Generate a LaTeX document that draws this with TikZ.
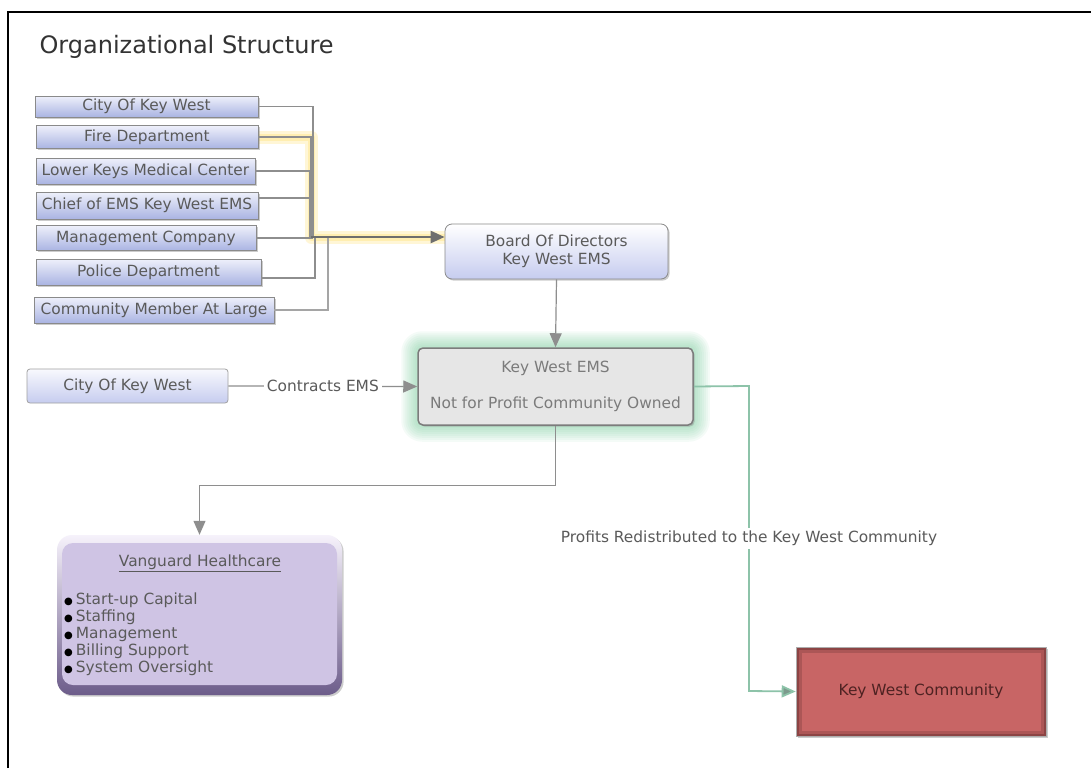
\documentclass[tikz,border=0pt]{standalone}
\usepackage{fontspec}
\setmainfont{DejaVu Sans}
\usetikzlibrary{shadows,arrows.meta,backgrounds,calc}
\definecolor{txt}{HTML}{5A5A5A}
\definecolor{bordergray}{HTML}{8A8A8A}
\definecolor{bluetop}{HTML}{EEF0FB}
\definecolor{bluebot}{HTML}{AAB4E2}
\definecolor{boardbot}{HTML}{C6CCEF}
\definecolor{linegray}{HTML}{8E8E8E}
\definecolor{darkline}{HTML}{6E6E6E}
\definecolor{glowyellow}{HTML}{FFE27A}
\definecolor{glowgreen}{HTML}{6FCB95}
\definecolor{emsfill}{HTML}{E6E6E6}
\definecolor{vtop}{HTML}{F6F2FB}
\definecolor{vbot}{HTML}{6C5C8A}
\definecolor{vfill}{HTML}{CFC4E4}
\definecolor{kwcfill}{HTML}{C86565}
\definecolor{kwcdark}{HTML}{6E3434}
\definecolor{kwctxt}{HTML}{4E2222}
\definecolor{greenline}{HTML}{8DC3A9}
\definecolor{greentip}{HTML}{7C9A8C}
\newcommand{\fsz}{\fontsize{15.4}{17}\selectfont}
\newcommand{\bul}{\textcolor{black}{\fontsize{10}{10}\selectfont ●}\hspace{3pt}}
\tikzset{
  shad/.style={drop shadow={shadow xshift=1.6pt,shadow yshift=-1.6pt,opacity=.4}},
  lbox/.style={draw=bordergray, line width=0.8pt, top color=bluetop, bottom color=bluebot,
    inner sep=0pt, text=txt, font=\fsz, shad},
  conn/.style={draw=linegray, line width=1.2pt},
  tip/.style={-{Triangle[length=14pt,width=12pt]}},
}
\begin{document}
\begin{tikzpicture}[x=1pt,y=-1pt]
\useasboundingbox (0,0) rectangle (1091,768);
\draw[line width=1.3pt] (8,768) -- (8,12) -- (1091,12);

\node[anchor=west, font=\fontsize{24}{28}\selectfont, text=black!80] (title) at (36,47) {Organizational Structure};

% left boxes
\node[lbox, minimum width=223pt, minimum height=21pt] (c1) at (146.5,106.5) {City Of Key West};
\node[lbox, minimum width=222pt, minimum height=23pt] (c2) at (147,137) {Fire Department};
\node[lbox, minimum width=219pt, minimum height=26pt] (c3) at (145.5,171) {Lower Keys Medical Center};
\node[lbox, minimum width=222pt, minimum height=27pt] (c4) at (147,205.5) {Chief of EMS Key West EMS};
\node[lbox, minimum width=220pt, minimum height=25pt] (c5) at (146,238) {Management Company};
\node[lbox, minimum width=225pt, minimum height=26pt] (c6) at (148.5,272) {Police Department};
\node[lbox, minimum width=240pt, minimum height=26pt] (c7) at (154,310) {Community Member At Large};

% board
\node[draw=bordergray, line width=0.8pt, rounded corners=7pt, top color=white, bottom color=boardbot,
  minimum width=223pt, minimum height=55pt, text=txt, font=\fontsize{15.4}{18}\selectfont, align=center, shad] (board) at (556.5,251.5)
  {Board Of Directors\\Key West EMS};

\coordinate (j1) at (313,237);
\coordinate (j2) at (311,237);
\coordinate (j3) at (310,237);
\coordinate (j5) at (312,237);
\coordinate (j6) at (315,237);
\coordinate (j7) at (328,237);
\coordinate (bin) at ([yshift=14.5pt]board.west);

% Key West EMS
\node[draw=bordergray!90!black, line width=1.5pt, rounded corners=5pt, fill=emsfill,
  minimum width=275pt, minimum height=77pt, text=txt!80, font=\fsz, align=center, shad] (ems) at (555.5,386.5)
  {Key West EMS\\[19pt]Not for Profit Community Owned};

% background: white page, glows
\begin{scope}[on background layer]
\fill[white] (0,0) rectangle (1091,768);
\draw[glowyellow, opacity=.3, line width=13pt, line join=round] (c2.east) -| (j2) -- (bin);
\draw[glowyellow, opacity=.4, line width=7pt, line join=round] (c2.east) -| (j2) -- (bin);
\foreach \i in {2,4,...,16}{
  \pgfmathsetmacro{\rr}{5+\i}
  \fill[glowgreen, opacity=.07, rounded corners=\rr pt]
    ([shift={(-\i pt,\i pt)}]ems.north west) rectangle ([shift={(\i pt,-\i pt)}]ems.south east);
}
\end{scope}

\draw[conn] (c1.east) -| (j1);
\draw[conn] (c3.east) -| (j3);
\draw[conn] ([yshift=7.5pt]c4.east) -| (j3);
\draw[conn] (c5.east) -| (j5);
\draw[conn] ([yshift=-6pt]c6.east) -| (j6);
\draw[conn, draw=linegray!80] (c7.east) -| (j7);
\draw[draw=linegray, line width=1.4pt] (c2.east) -| (j2);
\draw[draw=darkline, line width=2.6pt, tip] (j2) -- (bin);

\draw[conn, tip] (board.south) -- (ems.north);

% City of Key West (contract)
\node[draw=bordergray!80, line width=0.8pt, rounded corners=3pt, top color=white!60!bluetop, bottom color=boardbot,
  minimum width=201pt, minimum height=34pt, text=txt, font=\fsz] (city2) at (127.5,386) {City Of Key West};
\draw[conn, tip] (city2.east) -- node[fill=white, text=txt, font=\fsz, inner sep=3pt] (ctr) {Contracts EMS} (ems.west);

% Vanguard
\node[rounded corners=15pt, top color=vtop, bottom color=vbot, minimum width=285pt, minimum height=160pt,
  shad, path picture={
    \fill[vfill, rounded corners=11pt] ([shift={(5pt,-8pt)}]path picture bounding box.north west)
      rectangle ([shift={(-5pt,10pt)}]path picture bounding box.south east);}] (vg) at (199.5,615) {};
\node[text=txt, font=\fsz] (vgt) at (200,563) {\underline{Vanguard Healthcare}};
\node[anchor=north west, text=txt, font=\fsz, align=left, inner sep=0pt] (vgl) at (64,593)
  {\bul Start-up Capital\\
   \bul Staffing\\
   \bul Management\\
   \bul Billing Support\\
   \bul System Oversight};

\draw[conn, tip] (ems.south) -- ++(0,60) -| (vg.north);

% Key West Community
\node[draw=bordergray!70, line width=0.6pt, fill=kwcfill, minimum width=250pt, minimum height=89pt,
  text=kwctxt, font=\fsz, shad, path picture={
    \draw[kwcdark, opacity=.5, line width=5pt] (path picture bounding box.north west) rectangle (path picture bounding box.south east);
    \draw[kwcdark, opacity=.3, line width=11pt] (path picture bounding box.north west) rectangle (path picture bounding box.south east);}]
  (kwc) at (921,691.5) {Key West Community};

\draw[draw=greenline, line width=1.8pt, -{Triangle[length=14pt,width=12pt,fill=greentip]}]
  (ems.east) -- (749,386) -- node[pos=0.5, fill=white, text=txt, font=\fsz, inner sep=3pt] (prof)
  {Profits Redistributed to the Key West Community} (749,691) -- (kwc.west);
\end{tikzpicture}
\end{document}
